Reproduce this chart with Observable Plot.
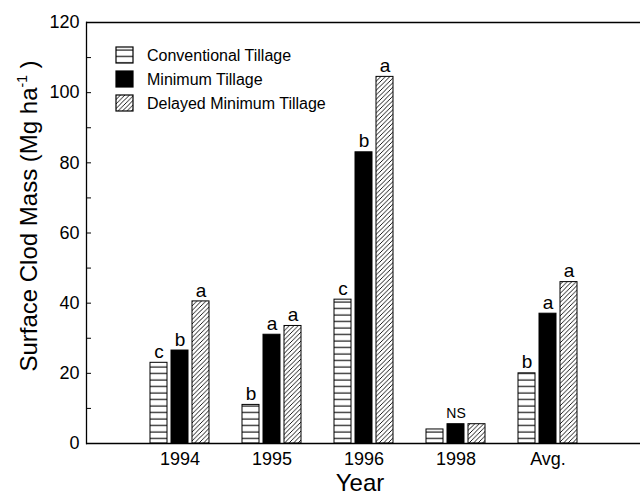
<!DOCTYPE html>
<html><head><meta charset="utf-8">
<script src="https://cdn.jsdelivr.net/npm/d3@7"></script>
<script src="https://cdn.jsdelivr.net/npm/@observablehq/plot@0.6"></script>
<style>
html,body{margin:0;padding:0;background:#fff}
svg{font-family:"Liberation Sans",Arial,Helvetica,sans-serif}
</style>
</head><body><div id="chart"></div>
<script>
// ---- data ----
const years = ["1994", "1995", "1996", "1998", "Avg."];
const seriesNames = ["Conventional Tillage", "Minimum Tillage", "Delayed Minimum Tillage"];
const conventional = [23, 11, 41, 4, 20];
const minimum = [26.5, 31, 83, 5.5, 37];
const delayed = [40.5, 33.5, 104.5, 5.5, 46];
const conventionalLetters = ["c", "b", "c", "", "b"];
const minimumLetters = ["b", "a", "b", "NS", "a"];
const delayedLetters = ["a", "a", "a", "", "a"];
const yTicks = [0, 20, 40, 60, 80, 100, 120];
const yMinorTicks = [0, 10, 20, 30, 40, 50, 60, 70, 80, 90, 100, 110, 120];

const rows = (vals, letters) => years.map((y, i) => ({year: y, value: vals[i], label: letters[i]}));
const conv = rows(conventional, conventionalLetters);
const mini = rows(minimum, minimumLetters);
const dela = rows(delayed, delayedLetters);

const fills = ["url(#hstripe)", "black", "url(#hatch)"];
const offsets = [-21, 0, 21];

const barOpts = (k) => ({x: "year", y: "value", fill: fills[k], stroke: "black", strokeWidth: 1, dx: offsets[k]});
const txtOpts = (k) => ({x: "year", y: "value", text: "label", dx: offsets[k], dy: -11,
  fontSize: d => d.label === "NS" ? 14 : 19, fill: "black"});

const svg = Plot.plot({
  width: 640, height: 496,
  marginLeft: 86, marginRight: 0, marginTop: 22, marginBottom: 53,
  style: {fontFamily: "Liberation Sans, Arial, sans-serif", fontSize: "18px", background: "white", color: "black"},
  x: {domain: years, type: "band", paddingInner: 0.816, paddingOuter: 0.908, label: null},
  y: {domain: [0, 120], label: null},
  marks: [
    Plot.barY(conv, barOpts(0)),
    Plot.barY(mini, barOpts(1)),
    Plot.barY(dela, barOpts(2)),
    Plot.text(conv, txtOpts(0)),
    Plot.text(mini, txtOpts(1)),
    Plot.text(dela, txtOpts(2)),
    Plot.ruleY([0, 120], {stroke: "black", strokeWidth: 1.3}),
    Plot.frame({anchor: "left", stroke: "black", strokeWidth: 1.3}),
    Plot.axisY({ticks: yMinorTicks, tickSize: 5, dx: 5, tickFormat: () => "", label: null, stroke: "black", strokeWidth: 1}),
    Plot.axisY({ticks: yTicks, tickSize: 0, tickPadding: 7, fontSize: 18, label: null}),
    Plot.axisX({tickSize: 0, tickPadding: 9, fontSize: 18, label: null})
  ]
});

// patterns
const s = d3.select(svg);
const defs = s.insert("defs", ":first-child");
const hp = defs.append("pattern").attr("id", "hstripe").attr("patternUnits", "userSpaceOnUse")
  .attr("width", 8).attr("height", 6.5);
hp.append("rect").attr("width", 8).attr("height", 6.5).attr("fill", "white");
hp.append("line").attr("x1", 0).attr("x2", 8).attr("y1", 3).attr("y2", 3).attr("stroke", "black").attr("stroke-width", 1.1);
const dp = defs.append("pattern").attr("id", "hatch").attr("patternUnits", "userSpaceOnUse")
  .attr("width", 4.5).attr("height", 4.5);
dp.append("rect").attr("width", 4.5).attr("height", 4.5).attr("fill", "white");
dp.append("path").attr("d", "M-1,1 L1,-1 M0,4.5 L4.5,0 M3.5,5.5 L5.5,3.5").attr("stroke", "black").attr("stroke-width", 0.9);

// y-axis title
const yt = s.append("text").attr("transform", "translate(37,216) rotate(-90)")
  .attr("text-anchor", "middle").attr("font-size", 24).attr("fill", "black");
yt.append("tspan").text("Surface Clod Mass (Mg ha");
yt.append("tspan").attr("font-size", 14).attr("dy", -10).text("-1");
yt.append("tspan").attr("dy", 10).text(" )");

// x-axis title
s.append("text").attr("x", 360).attr("y", 491).attr("text-anchor", "middle")
  .attr("font-size", 24).attr("fill", "black").text("Year");

// legend
const lg = s.append("g").attr("transform", "translate(116,47)").attr("text-anchor", "start");
seriesNames.forEach((name, i) => {
  const g = lg.append("g").attr("transform", `translate(0,${i * 24})`);
  g.append("rect").attr("width", 17).attr("height", 16).attr("fill", fills[i]).attr("stroke", "black").attr("stroke-width", 1.2);
  g.append("text").attr("x", 31).attr("y", 14).attr("text-anchor", "start").attr("font-size", 16).attr("fill", "black").text(name);
});

document.getElementById("chart").appendChild(svg);
</script>
</body></html>
